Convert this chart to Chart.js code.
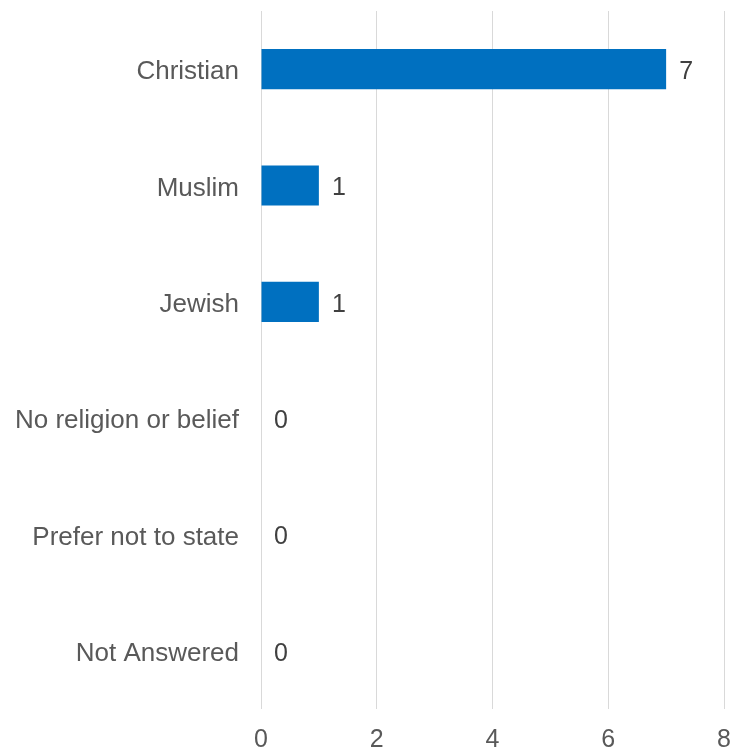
<!DOCTYPE html>
<html>
<head>
<meta charset="utf-8">
<script src="https://cdn.jsdelivr.net/npm/chart.js@4/dist/chart.umd.min.js"></script>
<style>
  html, body { margin: 0; padding: 0; background: #fff; overflow: hidden; }
  #wrap { width: 730px; height: 748px; position: relative; }
</style>
</head>
<body>
<div id="wrap"><canvas id="religionChart"></canvas></div>
<script>
// --- Religion breakdown ---
const categories = ['Christian', 'Muslim', 'Jewish', 'No religion or belief', 'Prefer not to state', 'Not Answered'];
const counts = [7, 1, 1, 0, 0, 0];
const xTicks = [0, 2, 4, 6, 8];

const fontFamily = '"Liberation Sans", Arial, sans-serif';

// value labels drawn just past the end of each bar
const valueLabels = {
    id: 'valueLabels',
    afterDatasetsDraw(chart) {
        const { ctx } = chart;
        const meta = chart.getDatasetMeta(0);
        ctx.save();
        ctx.font = '25px ' + fontFamily;
        ctx.fillStyle = '#404040';
        ctx.textAlign = 'left';
        ctx.textBaseline = 'middle';
        meta.data.forEach((bar, i) => {
            ctx.fillText(String(counts[i]), bar.x + 13, bar.y + 3);
        });
        ctx.restore();
    }
};

const ctx = document.getElementById('religionChart').getContext('2d');
new Chart(ctx, {
    type: 'bar',
    data: {
        labels: categories,
        datasets: [{
            data: counts,
            backgroundColor: '#0070c0',
            borderWidth: 0,
            barPercentage: 0.345,
            categoryPercentage: 1
        }]
    },
    options: {
        indexAxis: 'y',
        responsive: true,
        maintainAspectRatio: false,
        animation: false,
        layout: { padding: { top: 11, right: 6, left: 0, bottom: 0 } },
        plugins: {
            legend: { display: false },
            tooltip: { enabled: false }
        },
        scales: {
            x: {
                min: 0,
                max: 8,
                afterBuildTicks: s => { s.ticks = xTicks.map(v => ({ value: v })); },
                afterFit: s => { s.paddingRight = 0; s.paddingLeft = 0; s.height = 39; },
                grid: { color: '#d9d9d9', lineWidth: 1, drawTicks: false },
                border: { display: false },
                ticks: {
                    color: '#595959',
                    padding: 16,
                    maxRotation: 0,
                    font: { family: fontFamily, size: 25 }
                }
            },
            y: {
                afterFit: s => { s.width = 261; s.paddingTop = 0; s.paddingBottom = 0; },
                grid: { display: false },
                border: { display: false },
                ticks: {
                    color: '#595959',
                    padding: 14,
                    labelOffset: 3,
                    font: { family: fontFamily, size: 26 }
                }
            }
        }
    },
    plugins: [valueLabels]
});
</script>
</body>
</html>
